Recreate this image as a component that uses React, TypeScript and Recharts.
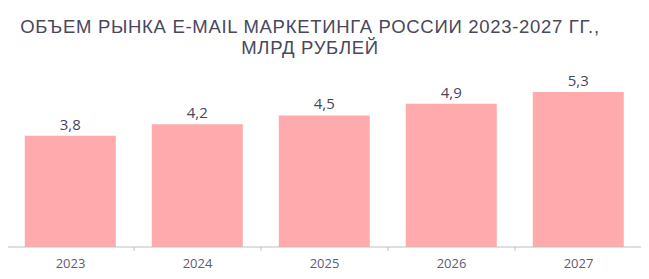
import { Bar, BarChart, LabelList, XAxis, YAxis } from 'recharts'

const years = ['2023', '2024', '2025', '2026', '2027']
const volumes = [3.8, 4.2, 4.5, 4.9, 5.3]
const titleLines = [
  'ОБЪЕМ РЫНКА E-MAIL МАРКЕТИНГА РОССИИ 2023-2027 ГГ.,',
  'МЛРД РУБЛЕЙ',
]

const data = years.map((y, i) => ({ year: y, value: volumes[i] }))

const font = "'Open Sans', sans-serif"
const axisGray = '#bfbfbf'

function YearTick(props: any) {
  const { x, y, payload, index } = props
  const half = payload.offset ?? 0
  return (
    <g>
      <line x1={x - half} x2={x - half} y1={y} y2={y + 4} stroke={axisGray} />
      {index === years.length - 1 && (
        <line x1={x + half} x2={x + half} y1={y} y2={y + 4} stroke={axisGray} />
      )}
      <text
        x={x}
        y={y + 20.5}
        textAnchor='middle'
        fontSize={13}
        fontFamily={font}
        fill='#5f5c74'
      >
        {payload.value}
      </text>
    </g>
  )
}

export default function App() {
  return (
    <div style={{ position: 'relative', width: 649, height: 279, margin: -8, background: '#fff' }}>
      <div
        style={{
          position: 'absolute',
          left: 0,
          top: 16,
          width: 620,
          textAlign: 'center',
          fontFamily: "'Liberation Sans', Arial, sans-serif",
          fontSize: 18.5,
          lineHeight: '21px',
          letterSpacing: 0.7,
          color: '#4a475c',
        }}
      >
        {titleLines.map((t) => (
          <div key={t}>{t}</div>
        ))}
      </div>
      <BarChart
        width={649}
        height={279}
        data={data}
        margin={{ top: 71.5, right: 7, left: 7, bottom: 2 }}
        barCategoryGap='14%'
      >
        <XAxis
          dataKey='year'
          height={30}
          axisLine={{ stroke: axisGray }}
          tickLine={false}
          tickSize={0}
          tickMargin={0}
          interval={0}
          tick={<YearTick />}
        />
        <YAxis hide domain={[0, 6]} />
        <Bar dataKey='value' fill='#ffabae' isAnimationActive={false}>
          <LabelList
            dataKey='value'
            position='top'
            offset={6}
            formatter={(v: any) => String(v).replace('.', ',')}
            style={{ fontSize: 15, fontFamily: font, fill: '#48455e' }}
          />
        </Bar>
      </BarChart>
    </div>
  )
}
